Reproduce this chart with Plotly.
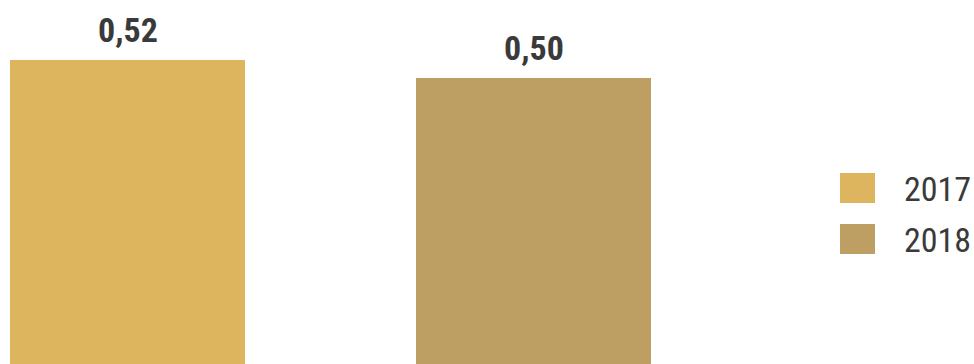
import plotly.graph_objects as go

years = ["2017", "2018"]
values = [0.52, 0.50]
colors = ["#DDB55E", "#BE9F63"]

FONT = "Liberation Sans Narrow, Arial Narrow, Roboto Condensed, sans-serif"
TEXT_COLOR = "#3a3a3a"
W, H = 974, 364

fig = go.Figure()
annots = []
for i, (yr, v, c) in enumerate(zip(years, values, colors)):
    fig.add_trace(go.Bar(
        x=[yr], y=[v], name=yr, marker=dict(color=c, line=dict(width=0)),
        showlegend=False,
    ))
    annots.append(dict(x=i, y=v, xref="x", yref="y", yanchor="bottom",
                       yshift=8, showarrow=False,
                       text="<b>" + f"{v:.2f}".replace(".", ",") + "</b>",
                       font=dict(family=FONT, size=34, color=TEXT_COLOR)))

# custom legend (large square swatches)
shapes = []
sw_top = [173, 224]
for i, (yr, c) in enumerate(zip(years, colors)):
    t = sw_top[i]
    shapes.append(dict(type="rect", xref="paper", yref="paper",
                       x0=840 / W, x1=875 / W, y0=1 - (t + 30) / H, y1=1 - t / H,
                       fillcolor=c, line=dict(width=0)))
    annots.append(dict(xref="paper", yref="paper", x=902 / W, y=1 - (t + 16) / H,
                       xanchor="left", yanchor="middle", text=yr, showarrow=False,
                       font=dict(family=FONT, size=34, color=TEXT_COLOR)))

unit = 406.0
r0 = -127.5 / unit
fig.update_layout(
    width=W, height=H, margin=dict(l=0, r=0, t=0, b=0),
    paper_bgcolor="white", plot_bgcolor="white",
    barmode="overlay", bargap=1 - 235 / unit,
    xaxis=dict(visible=False, type="category", range=[r0, r0 + W / unit]),
    yaxis=dict(visible=False, range=[0.52 - 304 / 900, 0.52 + 60 / 900]),
    shapes=shapes, annotations=annots, showlegend=False,
)
fig.write_html("out.html")
